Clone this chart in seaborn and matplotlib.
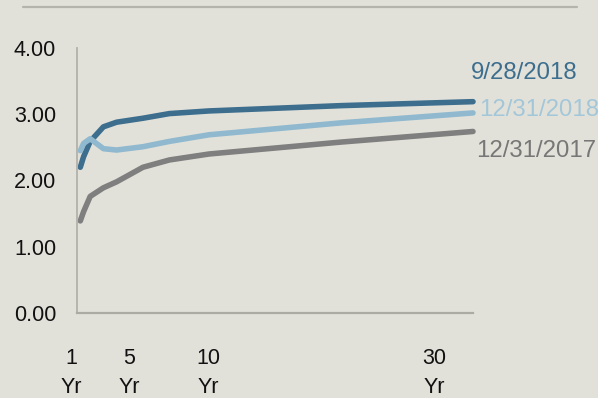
import matplotlib
matplotlib.use("Agg")
import matplotlib.pyplot as plt
from matplotlib.lines import Line2D
import numpy as np
import pandas as pd
import seaborn as sns

# Treasury yield curves (maturity in years -> yield %)
maturities = [0.25, 0.5, 1, 2, 3, 5, 7, 10, 20, 30]
curve_sep2018 = [2.20, 2.36, 2.59, 2.81, 2.88, 2.94, 3.01, 3.05, 3.13, 3.19]
curve_dec2018 = [2.45, 2.56, 2.63, 2.48, 2.46, 2.51, 2.59, 2.69, 2.87, 3.02]
curve_dec2017 = [1.39, 1.53, 1.76, 1.89, 1.98, 2.20, 2.31, 2.40, 2.58, 2.74]

series_names = ["9/28/2018", "12/31/2018", "12/31/2017"]
series_colors = ["#3D6E8E", "#90B9CF", "#7F7F7F"]
label_colors = ["#3D6E8E", "#A3C7D9", "#777777"]

y_ticks = [0, 1, 2, 3, 4]
y_tick_labels = ["0.00", "1.00", "2.00", "3.00", "4.00"]
x_tick_labels = ["1\nYr", "5\nYr", "10\nYr", "30\nYr"]
x_tick_pos = [-0.45, 3.94, 9.92, 27.05]

df = pd.DataFrame({
    "maturity": maturities * 3,
    "yield": curve_sep2018 + curve_dec2018 + curve_dec2017,
    "curve": [n for n in series_names for _ in maturities],
})

bg = "#E2E1D9"
sns.set_theme(style="white")
plt.rcParams["font.family"] = ["Liberation Sans", "DejaVu Sans"]

W, H = 598, 398
fig = plt.figure(figsize=(W / 100, H / 100), dpi=100, facecolor=bg)
ax = fig.add_axes([77 / W, (H - 313) / H, (473 - 77) / W, (313 - 48) / H])
ax.set_facecolor(bg)

sns.lineplot(
    data=df, x="maturity", y="yield", hue="curve",
    hue_order=series_names, palette=dict(zip(series_names, series_colors)),
    linewidth=4, legend=False, ax=ax, sort=False,
)
for ln in ax.lines:
    ln.set_solid_capstyle("round")
    ln.set_solid_joinstyle("round")
    ln.set_clip_on(False)

ax.set_yticks(y_ticks)
ax.set_yticklabels(y_tick_labels)
ax.set_xticks([])
ax.set_xlim(0, 30)
ax.set_ylim(0, 4)
ax.tick_params(axis="y", length=0, pad=15, labelsize=15.5, colors="#111111")
ax.set_xlabel("")
ax.set_ylabel("")

# Maturity labels under the axis
for pos, lab in zip(x_tick_pos, x_tick_labels):
    ax.text(pos, -35 / 265, lab, transform=ax.get_xaxis_transform(),
            ha="center", va="top", fontsize=15.5, color="#111111",
            linespacing=1.5, clip_on=False)

for side in ["top", "right"]:
    ax.spines[side].set_visible(False)
ax.spines["left"].set_color("#B2B2AA")
ax.spines["left"].set_linewidth(1.3)
ax.spines["bottom"].set_color("#ABABA3")
ax.spines["bottom"].set_linewidth(1.6)

# Series labels at the right end of the curves
label_px = [(471, 79), (479, 116), (476, 157)]
for name, col, (px, py) in zip(series_names, label_colors, label_px):
    fig.text(px / W, (H - py) / H, name, color=col, fontsize=17.3,
             ha="left", va="baseline")

# Rule across the top of the panel
fig.add_artist(Line2D([23 / W, 577 / W], [(H - 7) / H] * 2,
                      transform=fig.transFigure, color="#B4B4AC", linewidth=1.6))

fig.savefig("out.png", dpi=100, facecolor=bg)
